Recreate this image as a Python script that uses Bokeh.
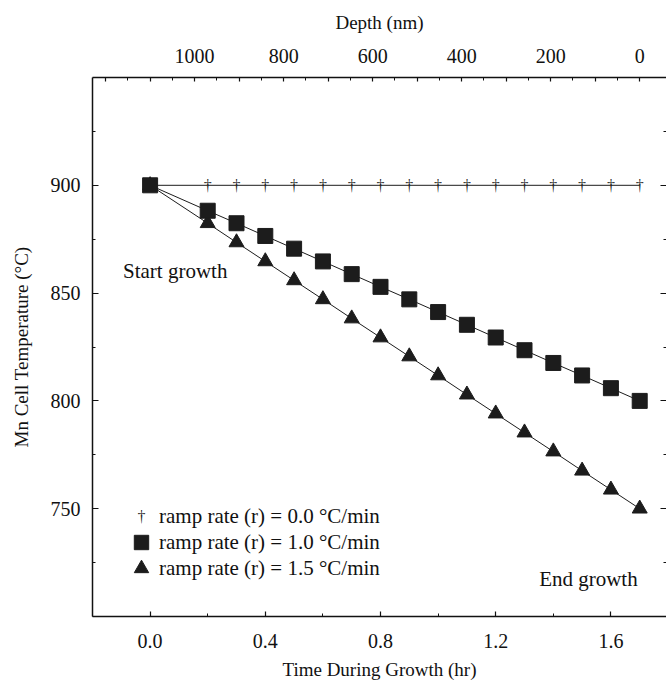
from bokeh.plotting import figure
from bokeh.models import (Range1d, LinearAxis, FixedTicker, Legend, LegendItem,
                          Label, CustomJSTickFormatter)
from bokeh.core.properties import value
from bokeh.embed import file_html
from bokeh.resources import INLINE

# ---------------- data ----------------
time_hr = [0.0, 0.2, 0.3, 0.4, 0.5, 0.6, 0.7, 0.8, 0.9, 1.0,
           1.1, 1.2, 1.3, 1.4, 1.5, 1.6, 1.7]
temp_r00 = [900, 900, 900, 900, 900, 900, 900, 900, 900, 900,
            900, 900, 900, 900, 900, 900, 900]
temp_r10 = [900, 888.2, 882.4, 876.5, 870.6, 864.7, 858.8, 852.9, 847.1, 841.2,
            835.3, 829.4, 823.5, 817.6, 811.8, 805.9, 800]
temp_r15 = [900, 882.4, 873.5, 864.7, 855.9, 847.1, 838.2, 829.4, 820.6, 811.8,
            802.9, 794.1, 785.3, 776.5, 767.6, 758.8, 750]

legend_labels = ["ramp rate (r) = 0.0 \u00b0C/min",
                 "ramp rate (r) = 1.0 \u00b0C/min",
                 "ramp rate (r) = 1.5 \u00b0C/min"]

x_ticks = [0.0, 0.4, 0.8, 1.2, 1.6]
x_tick_labels = ["0.0", "0.4", "0.8", "1.2", "1.6"]
x_minor_ticks = [-0.2, 0.2, 0.6, 1.0, 1.4]
y_ticks = [750, 800, 850, 900]
y_minor_ticks = [725, 775, 825, 875, 925]
depth_ticks = [0, 100, 200, 300, 400, 500, 600, 700, 800, 900, 1000, 1100, 1200]
depth_tick_labels = ["0", "", "200", "", "400", "", "600", "", "800", "", "1000", "", ""]
depth_minor_ticks = [50, 150, 250, 350, 450, 550, 650, 750, 850, 950, 1050, 1150]

depth_total_nm = 1100.0   # depth at start of growth
growth_hr = 1.7           # growth duration

# ---------------- figure ----------------
X0, X1 = -0.2, 1.793
FONT = "Liberation Serif"
INK = "#111111"
MARK = "#1c1c1c"

p = figure(width=666, height=682, x_range=Range1d(X0, X1), y_range=Range1d(700, 950),
           output_backend="svg", toolbar_location=None,
           min_border_left=92, min_border_right=0, min_border_top=77, min_border_bottom=65)
p.outline_line_color = None
p.xgrid.visible = False
p.ygrid.visible = False


def style(ax, tick_in=5):
    ax.axis_line_color = INK
    ax.axis_line_width = 1.5
    ax.major_tick_line_color = INK
    ax.minor_tick_line_color = INK
    ax.major_tick_line_width = 1.2
    ax.minor_tick_line_width = 1.0
    ax.major_tick_in = tick_in
    ax.major_tick_out = 0
    ax.minor_tick_in = 3
    ax.minor_tick_out = 0
    ax.major_label_text_font = FONT
    ax.major_label_text_font_size = "20px"
    ax.major_label_text_color = INK
    ax.axis_label_text_font = FONT
    ax.axis_label_text_font_size = "19px"
    ax.axis_label_text_font_style = "normal"
    ax.axis_label_text_color = INK


xa = p.below[0]
xa.ticker = FixedTicker(ticks=x_ticks, minor_ticks=x_minor_ticks)
xa.major_label_overrides = dict(zip(x_ticks, x_tick_labels))
xa.axis_label = "Time During Growth (hr)"
style(xa)
xa.major_label_standoff = 17
xa.axis_label_standoff = 8

ya = p.left[0]
ya.ticker = FixedTicker(ticks=y_ticks, minor_ticks=y_minor_ticks)
ya.axis_label = "Mn Cell Temperature (\u00b0C)"
style(ya, tick_in=6)
ya.major_label_standoff = 12
ya.axis_label_standoff = 16


def depth_of(t):
    return depth_total_nm * (growth_hr - t) / growth_hr


p.extra_x_ranges = {"depth": Range1d(start=depth_of(X0), end=depth_of(X1))}
ta = LinearAxis(x_range_name="depth",
                ticker=FixedTicker(ticks=depth_ticks, minor_ticks=depth_minor_ticks),
                axis_label="Depth (nm)")
ta.major_label_overrides = dict(zip(depth_ticks, depth_tick_labels))
style(ta, tick_in=4)
ta.major_label_standoff = 15
ta.axis_label_standoff = 13
p.add_layout(ta, "above")

ra = LinearAxis(ticker=FixedTicker(ticks=y_ticks, minor_ticks=y_minor_ticks),
                formatter=CustomJSTickFormatter(code="return ''"))
style(ra, tick_in=6)
ra.axis_line_color = None
ra.major_label_standoff = 0
p.add_layout(ra, "right")

# ---------------- series ----------------
for temps in (temp_r00, temp_r10, temp_r15):
    p.line(time_hr, temps, line_color=MARK, line_width=1)

r15 = p.scatter(time_hr, temp_r15, marker="triangle", size=15,
                fill_color=MARK, line_color=MARK)
r00 = p.text(time_hr, temp_r00, text=value("\u2020"), text_font=value(FONT),
             text_font_size=value("16px"), text_align="center", text_baseline="middle",
             text_color=MARK, text_alpha=0.99)
r10 = p.scatter(time_hr, temp_r10, marker="square", size=15,
                fill_color=MARK, line_color=MARK)

# ---------------- legend (one per row) ----------------
rows = [(r00, 82), (r10, 56), (r15, 30)]
for (rend, ybot), lab in zip(rows, legend_labels):
    leg = Legend(items=[LegendItem(label=lab, renderers=[rend])],
                 location=(31, ybot), glyph_width=36, glyph_height=36,
                 label_standoff=0, padding=0, margin=0, spacing=0,
                 border_line_color=None, background_fill_alpha=0,
                 label_text_font=FONT, label_text_font_size="21px",
                 label_text_color=INK, label_height=36)
    p.add_layout(leg)

# dagger symbol for the first legend row (text glyphs draw no legend symbol)
p.add_layout(Label(x=-0.0295, y=746.3, text="\u2020", text_font=FONT,
                   text_font_size="16px", text_align="center", text_baseline="middle",
                   text_color=MARK, text_alpha=0.99))

# ---------------- annotations ----------------
p.add_layout(Label(x=-0.094, y=860.2, text="Start growth", text_font=FONT,
                   text_font_size="21px", text_align="left", text_baseline="alphabetic",
                   text_color=INK))
p.add_layout(Label(x=1.693, y=717.5, text="End growth", text_font=FONT,
                   text_font_size="21px", text_align="right", text_baseline="alphabetic",
                   text_color=INK))

open("out.html", "w").write(file_html(p, INLINE))
